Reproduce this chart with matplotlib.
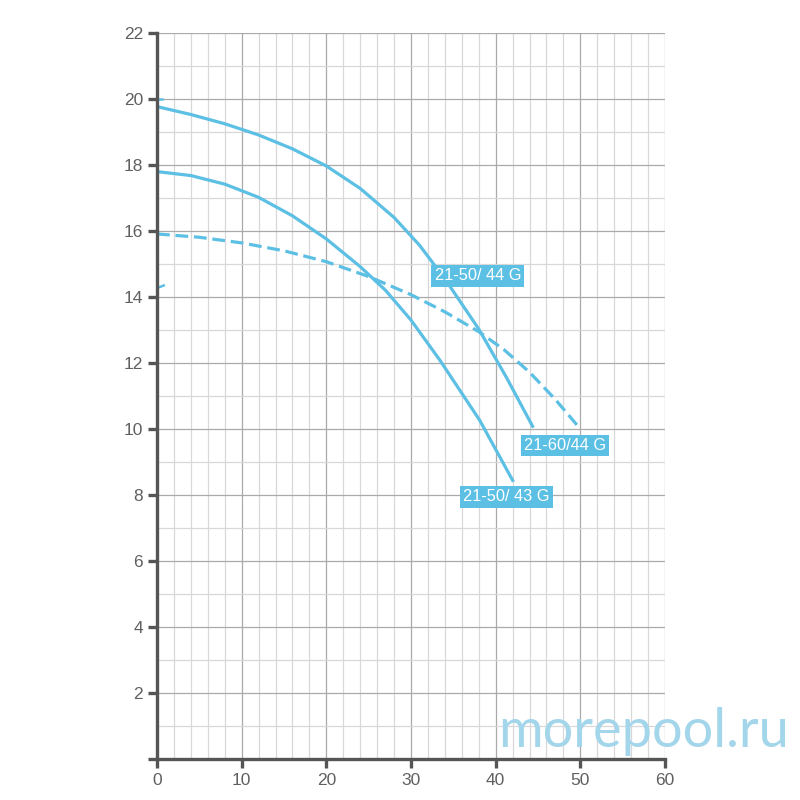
import matplotlib
matplotlib.use("Agg")
import matplotlib.pyplot as plt
from matplotlib.ticker import MultipleLocator

# pump curves (flow, head)
q_5044 = [0, 4, 8, 12, 16, 20, 24, 28, 31, 34, 38, 41.3, 44.45]
h_5044 = [19.77, 19.53, 19.25, 18.91, 18.49, 17.97, 17.29, 16.41, 15.57, 14.55, 13.03, 11.55, 10.04]

q_5043 = [0, 4, 8, 12, 16, 20, 24, 27, 30, 33.4, 38.1, 42.1]
h_5043 = [17.8, 17.68, 17.42, 17.02, 16.46, 15.76, 14.92, 14.2, 13.3, 12.09, 10.27, 8.4]

q_6044 = [0, 5, 10, 15, 20, 25, 30, 34, 38, 41, 44, 47, 50]
h_6044 = [15.91, 15.81, 15.64, 15.4, 15.07, 14.62, 14.07, 13.55, 12.95, 12.4, 11.72, 10.91, 10.0]

labels = ["21-50/ 44 G", "21-60/44 G", "21-50/ 43 G"]
label_pos = [(37.9, 14.64), (48.2, 9.5), (41.3, 7.94)]

x_ticks = list(range(0, 61, 10))
y_ticks = list(range(0, 23, 2))

blue = "#5cbfe4"
axis_grey = "#555555"

plt.rcParams["font.family"] = ["Liberation Sans", "DejaVu Sans"]

fig = plt.figure(figsize=(8, 8), dpi=100)
ax = fig.add_axes([0.19625, 0.05125, 0.635, 0.9075])

ax.set_xlim(0, 60)
ax.set_ylim(0, 22)
ax.set_xticks(x_ticks)
ax.set_yticks(y_ticks)
ax.set_yticklabels(["" if t == 0 else str(t) for t in y_ticks])
ax.xaxis.set_minor_locator(MultipleLocator(2))
ax.yaxis.set_minor_locator(MultipleLocator(1))
ax.grid(which="major", color="#aaaaaa", linewidth=0.9)
ax.grid(which="minor", color="#d8d8d8", linewidth=0.9)
ax.set_axisbelow(True)

for side in ["top", "right"]:
    ax.spines[side].set_visible(False)
for side in ["left", "bottom"]:
    ax.spines[side].set_color(axis_grey)
    ax.spines[side].set_linewidth(2.4)

ax.tick_params(which="major", direction="out", length=6.5, width=2.4,
               color=axis_grey, labelcolor="#606060", labelsize=12.5, pad=3.5)
ax.tick_params(which="minor", length=0)

lw = 2.3
ax.plot(q_5044, h_5044, color=blue, lw=lw, solid_capstyle="butt",
        solid_joinstyle="round", clip_on=False)
ax.plot(q_5043, h_5043, color=blue, lw=lw, solid_capstyle="butt",
        solid_joinstyle="round", clip_on=False)
ax.plot(q_6044, h_6044, color=blue, lw=lw, linestyle=(0, (4, 1.8)),
        dash_joinstyle="round", clip_on=False)

# small leftover marks on the head axis
ax.plot([0, 0.6], [20, 20], color=blue, lw=1.8, clip_on=False)
ax.plot([0.3, 0.8], [14.3, 14.35], color=blue, lw=1.8, clip_on=False)

for text, (x, y) in zip(labels, label_pos):
    ax.text(x, y, text, color="white", fontsize=11.8, ha="center", va="center",
            bbox=dict(boxstyle="square,pad=0.2", facecolor=blue, edgecolor="none"))

fig.text(0.805, 0.085, "morepool.ru", color="#a3d5eb", fontsize=39,
         family="Lato", ha="center", va="center")

fig.savefig("out.png", dpi=100)
